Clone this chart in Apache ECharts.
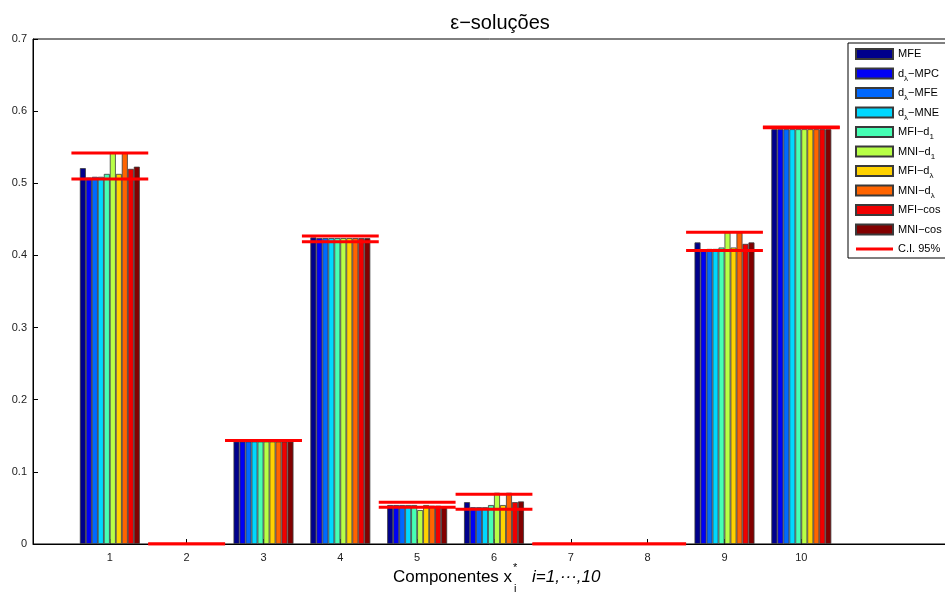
<!DOCTYPE html>
<html>
<head>
<meta charset="utf-8">
<script src="https://cdn.jsdelivr.net/npm/echarts@6/dist/echarts.min.js"></script>
<style>
  html, body { margin: 0; padding: 0; background: #fff; }
  #chart { width: 945px; height: 593px; }
</style>
</head>
<body>
<div id="chart"></div>
<script>
// Components x_i*, i = 1..10
const categories = ['1', '2', '3', '4', '5', '6', '7', '8', '9', '10'];

// Mean ε-solution per method and component
const MFE      = [0.521, 0, 0.142, 0.425, 0.054, 0.058, 0, 0, 0.418, 0.575];
const dl_MPC   = [0.508, 0, 0.142, 0.424, 0.054, 0.051, 0, 0, 0.408, 0.575];
const dl_MFE   = [0.509, 0, 0.142, 0.424, 0.054, 0.051, 0, 0, 0.409, 0.575];
const dl_MNE   = [0.509, 0, 0.142, 0.424, 0.054, 0.051, 0, 0, 0.409, 0.575];
const MFI_d1   = [0.513, 0, 0.142, 0.424, 0.054, 0.054, 0, 0, 0.411, 0.575];
const MNI_d1   = [0.543, 0, 0.142, 0.424, 0.047, 0.071, 0, 0, 0.432, 0.575];
const MFI_dl   = [0.513, 0, 0.142, 0.424, 0.054, 0.054, 0, 0, 0.411, 0.575];
const MNI_dl   = [0.543, 0, 0.142, 0.424, 0.053, 0.071, 0, 0, 0.432, 0.575];
const MFI_cos  = [0.520, 0, 0.142, 0.424, 0.053, 0.058, 0, 0, 0.416, 0.575];
const MNI_cos  = [0.523, 0, 0.142, 0.424, 0.052, 0.059, 0, 0, 0.418, 0.575];

// 95% confidence interval bounds per component
const ciLower  = [0.506, 0, 0.1435, 0.419, 0.051, 0.048, 0, 0, 0.407, 0.577];
const ciUpper  = [0.542, 0, 0.1435, 0.427, 0.058, 0.069, 0, 0, 0.432, 0.578];

const yTicks = [0, 0.1, 0.2, 0.3, 0.4, 0.5, 0.6, 0.7];

const methodNames = ['MFE', 'dλ−MPC', 'dλ−MFE', 'dλ−MNE', 'MFI−d1', 'MNI−d1', 'MFI−dλ', 'MNI−dλ', 'MFI−cos', 'MNI−cos'];
const methodValues = [MFE, dl_MPC, dl_MFE, dl_MNE, MFI_d1, MNI_d1, MFI_dl, MNI_dl, MFI_cos, MNI_cos];
const methodColors = ['#00008c', '#0000f5', '#0068ff', '#00d8ff', '#46ffb4', '#b8ff46', '#ffd200', '#ff6400', '#f00000', '#820000'];
const ciName = 'C.I. 95%';

// x slots 0..12, components sit on slots 1..10
const slots = ['', ...categories, '', ''];

const barSeries = methodNames.map((name, k) => ({
  name: name,
  type: 'bar',
  data: ['-', ...methodValues[k], '-', '-'],
  barGap: '0%',
  barCategoryGap: '22%',
  itemStyle: { color: methodColors[k], borderColor: '#3a3a3a', borderWidth: 0.8 },
  emphasis: { disabled: true },
  z: 2
}));

function ciSegments(bounds) {
  const pts = [];
  bounds.forEach((v, i) => {
    const c = i + 1;
    pts.push([c - 0.5, v], [c + 0.5, v], [c + 0.5, '-']);
  });
  return pts;
}

const ciSeries = [ciLower, ciUpper].map(b => ({
  name: ciName,
  type: 'line',
  xAxisIndex: 1,
  data: ciSegments(b),
  symbol: 'none',
  connectNulls: false,
  lineStyle: { color: '#ff0000', width: 3 },
  itemStyle: { color: '#ff0000' },
  emphasis: { disabled: true },
  z: 5
}));

// Legend labels with subscripts; every entry gets a subscript slot so rows share one height
function legendLabel(name) {
  if (name.startsWith('dλ')) return '{n|d}{s|λ}{n|' + name.slice(2) + '}';
  if (name.endsWith('d1')) return '{n|' + name.slice(0, -1) + '}{s|1}';
  if (name.endsWith('dλ')) return '{n|' + name.slice(0, -1) + '}{s|λ}';
  return '{n|' + name + '}{s| }';
}

const font = 'Liberation Sans, Arial, Helvetica, sans-serif';

const chart = echarts.init(document.getElementById('chart'), null, { renderer: 'canvas' });
chart.setOption({
  animation: false,
  backgroundColor: '#fff',
  title: {
    text: 'ε−soluções',
    left: 495,
    top: 8,
    textAlign: 'center',
    textStyle: { fontFamily: font, fontSize: 20, fontWeight: 'normal', color: '#000' }
  },
  grid: {
    left: 33, top: 39, width: 922, height: 505,
    outerBoundsMode: 'none',
    containLabel: false,
    show: true, borderColor: '#000', borderWidth: 1, backgroundColor: '#fff'
  },
  legend: {
    data: [
      ...methodNames,
      { name: ciName, icon: 'path://M0,0L37,0L37,3L0,3Z', itemStyle: { color: '#ff0000', borderWidth: 0 } }
    ],
    icon: 'rect',
    orient: 'vertical',
    left: 848,
    top: 43,
    padding: [2, 60, 0, 7],
    itemWidth: 37,
    itemHeight: 10,
    itemGap: 1.5,
    backgroundColor: '#fff',
    borderColor: '#000',
    borderWidth: 1,
    selectedMode: false,
    formatter: legendLabel,
    textStyle: {
      color: '#000',
      rich: {
        n: { fontFamily: font, fontSize: 11, color: '#000', lineHeight: 18, verticalAlign: 'middle' },
        s: { fontFamily: font, fontSize: 8, color: '#000', lineHeight: 8, padding: [10, 0, 0, 0], verticalAlign: 'middle' }
      }
    }
  },
  xAxis: [
    {
      type: 'category',
      data: slots,
      boundaryGap: false,
      axisLine: { lineStyle: { color: '#000', width: 1 } },
      axisTick: { inside: true, length: 5, interval: (i) => i >= 1 && i <= 10, lineStyle: { color: '#000' } },
      axisLabel: { interval: 0, margin: 8, fontFamily: font, fontSize: 11, color: '#222' },
      splitLine: { show: false }
    },
    {
      type: 'value',
      min: 0, max: 12,
      show: false
    }
  ],
  yAxis: {
    type: 'value',
    min: yTicks[0],
    max: yTicks[yTicks.length - 1],
    interval: 0.1,
    axisLine: { show: true, lineStyle: { color: '#000', width: 1 } },
    axisTick: { show: true, inside: true, length: 5, lineStyle: { color: '#000' } },
    axisLabel: {
      margin: 6, fontFamily: font, fontSize: 11, color: '#222',
      formatter: (v) => (v === 0 ? '0' : v.toFixed(1))
    },
    splitLine: { show: false }
  },
  graphic: [
    {
      type: 'group',
      left: 393,
      top: 562,
      children: [
        { type: 'text', x: 0, y: 7, style: { text: 'Componentes x', font: '17px ' + font, fill: '#000' } },
        { type: 'text', x: 120, y: 0, style: { text: '*', font: '11px ' + font, fill: '#000' } },
        { type: 'text', x: 121, y: 21, style: { text: 'i', font: '11px ' + font, fill: '#000' } },
        { type: 'text', x: 139, y: 7, style: { text: 'i=1,···,10', font: 'italic 17px ' + font, fill: '#000' } }
      ]
    }
  ],
  series: [...barSeries, ...ciSeries]
});
</script>
</body>
</html>
